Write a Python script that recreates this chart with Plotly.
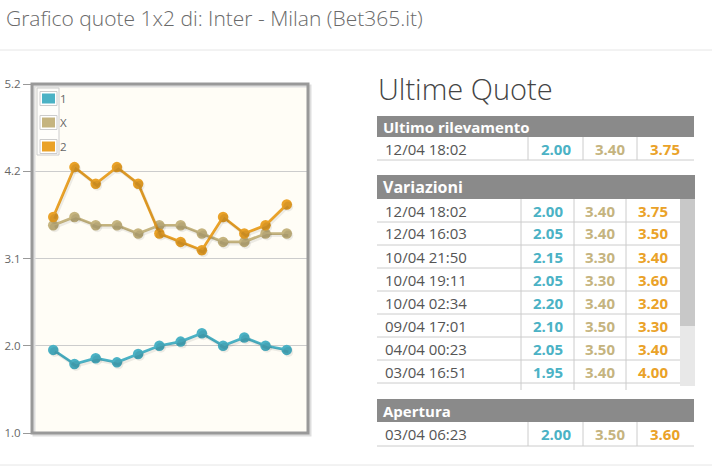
import plotly.graph_objects as go

W, H = 712, 473

# ---------------- data ----------------
series_names = ["1", "X", "2"]
series_colors = ["#4bb2c5", "#c5b47f", "#EAA228"]
points = list(range(1, 13))
quote_1 = [2.00, 1.83, 1.90, 1.85, 1.95, 2.05, 2.10, 2.20, 2.05, 2.15, 2.05, 2.00]
quote_X = [3.50, 3.60, 3.50, 3.50, 3.40, 3.50, 3.50, 3.40, 3.30, 3.30, 3.40, 3.40]
quote_2 = [3.60, 4.20, 4.00, 4.20, 4.00, 3.40, 3.30, 3.20, 3.60, 3.40, 3.50, 3.75]

y_tickvals = [1.0, 2.05, 3.1, 4.15, 5.2]
y_ticktext = ["1.0", "2.0", "3.1", "4.2", "5.2"]

title_text = "Grafico quote 1x2 di: Inter - Milan (Bet365.it)"
side_title = "Ultime Quote"

last_header = "Ultimo rilevamento"
last_row = ["12/04 18:02", "2.00", "3.40", "3.75"]

var_header = "Variazioni"
var_dates = ["12/04 18:02", "12/04 16:03", "10/04 21:50", "10/04 19:11",
             "10/04 02:34", "09/04 17:01", "04/04 00:23", "03/04 16:51"]
var_1 = ["2.00", "2.05", "2.15", "2.05", "2.20", "2.10", "2.05", "1.95"]
var_X = ["3.40", "3.40", "3.30", "3.30", "3.40", "3.50", "3.50", "3.40"]
var_2 = ["3.75", "3.50", "3.40", "3.60", "3.20", "3.30", "3.40", "4.00"]

open_header = "Apertura"
open_row = ["03/04 06:23", "2.00", "3.50", "3.60"]

# ---------------- helpers (pixel -> paper) ----------------
def px(x):
    return x / W

def py(y):
    return 1 - y / H

FONT = "Open Sans"
shapes = []
annotations = []

def rect(x0, y0, x1, y1, fill=None, line=None, lw=1, layer="above"):
    shapes.append(dict(type="rect", xref="paper", yref="paper",
                       x0=px(x0), x1=px(x1), y0=py(y1), y1=py(y0),
                       fillcolor=fill if fill else "rgba(0,0,0,0)",
                       line=dict(color=line if line else "rgba(0,0,0,0)", width=lw if line else 0),
                       layer=layer))

def hline(x0, x1, y, color="#cccccc", lw=1):
    shapes.append(dict(type="line", xref="paper", yref="paper",
                       x0=px(x0), x1=px(x1), y0=py(y), y1=py(y),
                       line=dict(color=color, width=lw)))

def vline(x, y0, y1, color="#cccccc", lw=1):
    shapes.append(dict(type="line", xref="paper", yref="paper",
                       x0=px(x), x1=px(x), y0=py(y0), y1=py(y1),
                       line=dict(color=color, width=lw)))

def text(x, y, s, size=14, color="#555555", anchor="left", bold=False, family=FONT, weight=None):
    w = weight if weight is not None else ("bold" if bold else "normal")
    annotations.append(dict(xref="paper", yref="paper", x=px(x), y=py(y), text=s,
                            showarrow=False, xanchor=anchor, yanchor="middle",
                            font=dict(family=family, size=size, color=color, weight=w)))

# ---------------- chart ----------------
PL, PR, PT, PB = 32, 308, 84, 433
fig = go.Figure()

all_series = [quote_1, quote_X, quote_2]
# shadows on shifted overlay axes (same data)
for vals in all_series:
    fig.add_trace(go.Scatter(x=points, y=vals, mode="lines+markers",
                             line=dict(color="rgba(0,0,0,0.07)", width=3),
                             marker=dict(size=10, color="rgba(0,0,0,0.07)"),
                             xaxis="x2", yaxis="y2", showlegend=False, hoverinfo="skip"))
for name, vals, col in zip(series_names, all_series, series_colors):
    fig.add_trace(go.Scatter(x=points, y=vals, mode="lines+markers", name=name,
                             line=dict(color=col, width=2.7),
                             marker=dict(size=10.5, color=col),
                             showlegend=False))

ppu = (PB - PT) / (5.2 - 1.0)
dy = 2.0 / ppu
xppu = (PR - PL) / 13.0
dx = 1.5 / xppu

# frame shadow + frame
rect(PL + 2, PT + 2, PR + 2, PB + 2, line="#dddddd", lw=3)
rect(PL, PT, PR, PB, line="#999999", lw=3)

# legend
rect(37, 88, 59, 155, fill="rgba(255,255,255,0.6)", line="#cccccc", lw=1)
for i, (name, col) in enumerate(zip(series_names, series_colors)):
    yc = 98.5 + i * 24
    rect(40, yc - 7, 57, yc + 7, fill="white", line="#cccccc", lw=1)
    rect(42, yc - 5, 55, yc + 5, fill=col)
    text(57.5, yc, name, size=11.5, color="#666666")

# page title & rules
text(4, 18, title_text, size=21, color="#6a6a6a", weight=300)
hline(0, W, 50, color="#e6e6e6")
hline(0, W, 465, color="#e6e6e6")

# ---------------- tables ----------------
text(376, 88, side_title, size=29, color="#444444", weight=300)
HDR = "#8a8a8a"
TL, TR = 377, 694
vcols = [series_colors[0], "#c5b47f", "#EAA228"]
ROW_FS = 15

# Ultimo rilevamento
rect(TL, 116, TR, 137, fill=HDR)
text(381, 126.5, last_header, size=15, color="white", bold=True)
text(383, 149, last_row[0], size=ROW_FS, color="#555555")
for xc, v, c in zip([556, 610, 665], last_row[1:], vcols):
    text(xc, 149, v, size=ROW_FS, color=c, anchor="center", bold=True)
for xs in [528, 583, 637]:
    vline(xs, 137, 160)
hline(TL, TR, 160)

# Variazioni
rect(TL, 175, TR + 1, 199, fill=HDR)
text(381, 187, var_header, size=16, color="white", bold=True)
rect(680, 199, TR + 1, 386, fill="#e8e8e8")
rect(680, 199, TR + 1, 326, fill="#c8c8c8")
for i, (d, a, b, c) in enumerate(zip(var_dates, var_1, var_X, var_2)):
    top = 199 + 23 * i
    yc = top + 11.5
    text(383, yc, d, size=ROW_FS, color="#555555")
    for xc, v, col in zip([548, 600, 653], [a, b, c], vcols):
        text(xc, yc, v, size=ROW_FS, color=col, anchor="center", bold=True)
    hline(TL, 680, top + 23)
for xs in [521, 574, 626]:
    vline(xs, 199, 390)

# Apertura
rect(TL, 399, TR, 422, fill=HDR)
text(381, 410.5, open_header, size=15, color="white", bold=True)
text(383, 434, open_row[0], size=ROW_FS, color="#555555")
for xc, v, c in zip([556, 610, 665], open_row[1:], vcols):
    text(xc, 434, v, size=ROW_FS, color=c, anchor="center", bold=True)
for xs in [528, 583, 637]:
    vline(xs, 422, 446)
hline(TL, TR, 446)

xdom = [px(PL), px(PR)]
ydom = [py(PB), py(PT)]

fig.update_layout(
    width=W, height=H, autosize=False,
    margin=dict(l=0, r=0, t=0, b=0, pad=0, autoexpand=False),
    paper_bgcolor="white", plot_bgcolor="#fffdf6",
    font=dict(family=FONT, color="#666666"),
    showlegend=False,
    xaxis=dict(domain=xdom, range=[0, 13], showgrid=False, zeroline=False, automargin=False,
               showticklabels=False, ticks="", showline=False, fixedrange=True),
    yaxis=dict(domain=ydom, range=[1.0, 5.2], tickvals=y_tickvals, ticktext=y_ticktext,
               showgrid=True, gridcolor="#cccccc", gridwidth=1, zeroline=False, automargin=False,
               ticks="outside", ticklen=8, tickcolor="#999999", tickwidth=1,
               tickfont=dict(family=FONT, size=11.5, color="#666666"),
               showline=False, fixedrange=True),
    xaxis2=dict(domain=xdom, range=[0 - dx, 13 - dx], overlaying="x", visible=False,
                automargin=False, fixedrange=True),
    yaxis2=dict(domain=ydom, range=[1.0 + dy, 5.2 + dy], overlaying="y", visible=False,
                automargin=False, fixedrange=True),
    shapes=shapes, annotations=annotations,
)

fig.write_html("out.html")
